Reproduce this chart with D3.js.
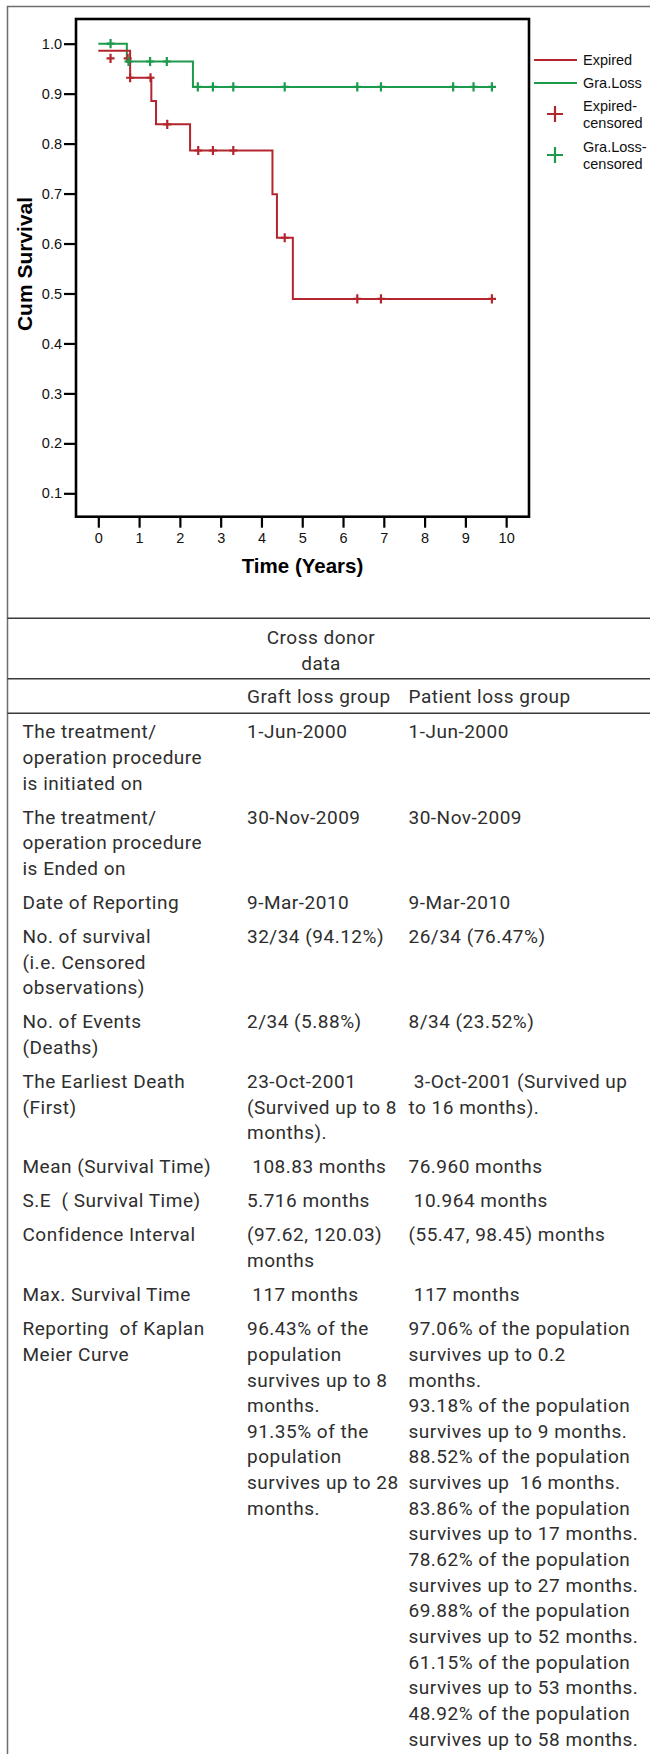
<!DOCTYPE html>
<html><head><meta charset="utf-8">
<script src="https://cdn.jsdelivr.net/npm/d3@7"></script>
<style>html,body{margin:0;padding:0;background:#fff;} svg{display:block;}</style>
</head><body>
<script>
// ---------- chart data ----------
const yearTicks = [0,1,2,3,4,5,6,7,8,9,10];
const survTicks = [0.1,0.2,0.3,0.4,0.5,0.6,0.7,0.8,0.9,1.0];

const graLossTimes = [0, 0.70, 2.32];
const graLossSurv  = [1.0, 0.9643, 0.9135];
const graLossEnd = 9.75;
const graLossCensorTimes = [0.30, 0.74, 1.27, 1.68, 2.44, 2.81, 3.31, 4.57, 6.35, 6.93, 8.70, 9.20, 9.65];
const graLossCensorSurv  = [1.0, 0.9643, 0.9643, 0.9643, 0.9135, 0.9135, 0.9135, 0.9135, 0.9135, 0.9135, 0.9135, 0.9135, 0.9135];

const expiredTimes = [0, 0.78, 1.30, 1.415, 2.25, 4.27, 4.38, 4.77];
const expiredSurv  = [0.986, 0.9318, 0.8852, 0.8386, 0.7862, 0.6988, 0.6115, 0.4892];
const expiredEnd = 9.75;
const expiredCensorTimes = [0.30, 0.72, 0.78, 1.28, 1.69, 2.45, 2.81, 3.31, 4.57, 6.35, 6.93, 9.65];
const expiredCensorSurv  = [0.9706, 0.9706, 0.9318, 0.9318, 0.8386, 0.7862, 0.7862, 0.7862, 0.6115, 0.4892, 0.4892, 0.4892];

const legendLabels = ["Expired", "Gra.Loss", "Expired-\ncensored", "Gra.Loss-\ncensored"];

// ---------- table data ----------
const headerGroup = "Cross donor\ndata";
const headerCols = ["Graft loss group", "Patient loss group"];
const rowLabels = [
  "The treatment/\noperation procedure\nis initiated on",
  "The treatment/\noperation procedure\nis Ended on",
  "Date of Reporting",
  "No. of survival\n(i.e. Censored\nobservations)",
  "No. of Events\n(Deaths)",
  "The Earliest Death\n(First)",
  "Mean (Survival Time)",
  "S.E  ( Survival Time)",
  "Confidence Interval",
  "Max. Survival Time",
  "Reporting  of Kaplan\nMeier Curve"
];
const graftValues = [
  "1-Jun-2000",
  "30-Nov-2009",
  "9-Mar-2010",
  "32/34 (94.12%)",
  "2/34 (5.88%)",
  "23-Oct-2001\n(Survived up to 8\nmonths).",
  " 108.83 months",
  "5.716 months",
  "(97.62, 120.03)\nmonths",
  " 117 months",
  "96.43% of the\npopulation\nsurvives up to 8\nmonths.\n91.35% of the\npopulation\nsurvives up to 28\nmonths."
];
const patientValues = [
  "1-Jun-2000",
  "30-Nov-2009",
  "9-Mar-2010",
  "26/34 (76.47%)",
  "8/34 (23.52%)",
  " 3-Oct-2001 (Survived up\nto 16 months).",
  "76.960 months",
  " 10.964 months",
  "(55.47, 98.45) months",
  " 117 months",
  "97.06% of the population\nsurvives up to 0.2\nmonths.\n93.18% of the population\nsurvives up to 9 months.\n88.52% of the population\nsurvives up  16 months.\n83.86% of the population\nsurvives up to 17 months.\n78.62% of the population\nsurvives up to 27 months.\n69.88% of the population\nsurvives up to 52 months.\n61.15% of the population\nsurvives up to 53 months.\n48.92% of the population\nsurvives up to 58 months."
];

// ---------- drawing ----------
const W = 650, H = 1754;
const RED = "#b3262e", GREEN = "#1e9a4c";
const svg = d3.select("body").append("svg").attr("width", W).attr("height", H);

// outer figure border (top + left)
svg.append("path").attr("d", `M7.5,1754 V6.5 H650`).attr("fill","none")
  .attr("stroke","#6d6d6d").attr("stroke-width",1.5);

const frame = {l:76, r:529, t:19, b:516.7};
const x = d3.scaleLinear().domain([-0.547, 10.56]).range([frame.l, frame.r]);
const y = d3.scaleLinear().domain([0.0532, 1.0494]).range([frame.b, frame.t]);

const chartFont = "'Liberation Sans', Arial, sans-serif";
const g = svg.append("g");

// axes
const yAxis = d3.axisLeft(y).tickValues(survTicks).tickFormat(d3.format(".1f")).tickSize(12).tickPadding(2);
const xAxis = d3.axisBottom(x).tickValues(yearTicks).tickFormat(d3.format("d")).tickSize(11).tickPadding(5);
const ya = g.append("g").attr("transform", `translate(${frame.l},0)`).call(yAxis);
const xa = g.append("g").attr("transform", `translate(0,${frame.b})`).call(xAxis);
[ya, xa].forEach(a => {
  a.select(".domain").remove();
  a.selectAll(".tick line").attr("stroke","#000").attr("stroke-width",2.2);
  a.selectAll(".tick text").attr("fill","#111").style("font-family",chartFont).style("font-size","14.5px");
});

// frame
g.append("rect").attr("x",frame.l).attr("y",frame.t).attr("width",frame.r-frame.l).attr("height",frame.b-frame.t)
  .attr("fill","none").attr("stroke","#000").attr("stroke-width",2.6);

// axis titles
g.append("text").attr("x",(frame.l+frame.r)/2).attr("y",572.5).attr("text-anchor","middle")
  .style("font-family",chartFont).style("font-weight","bold").style("font-size","20.5px").attr("fill","#000")
  .text("Time (Years)");
g.append("text").attr("transform",`translate(32,264) rotate(-90)`).attr("text-anchor","middle")
  .style("font-family",chartFont).style("font-weight","bold").style("font-size","21px").attr("fill","#000")
  .text("Cum Survival");

// curves
const line = d3.line().x(d=>x(d[0])).y(d=>y(d[1])).curve(d3.curveStepAfter);
function stepPts(times, surv, end){ const p = times.map((t,i)=>[t,surv[i]]); p.push([end, surv[surv.length-1]]); return p; }
function plusPath(t, s){ const cx=x(t), cy=y(s); return `M${cx-4},${cy}h8M${cx},${cy-4.6}v9.2`; }

g.append("path").attr("d", line(stepPts(graLossTimes, graLossSurv, graLossEnd))).attr("fill","none").attr("stroke",GREEN).attr("stroke-width",2);
g.append("path").attr("d", line(stepPts(expiredTimes, expiredSurv, expiredEnd))).attr("fill","none").attr("stroke",RED).attr("stroke-width",2);

g.append("g").selectAll("path").data(expiredCensorTimes).join("path")
  .attr("d",(t,i)=>plusPath(t, expiredCensorSurv[i])).attr("stroke",RED).attr("stroke-width",2.2).attr("fill","none");
g.append("g").selectAll("path").data(graLossCensorTimes).join("path")
  .attr("d",(t,i)=>plusPath(t, graLossCensorSurv[i])).attr("stroke",GREEN).attr("stroke-width",2.2).attr("fill","none");

// legend
const lg = svg.append("g");
const legY = [60, 83, 114, 155];
[RED, GREEN].forEach((c,i)=>{
  lg.append("line").attr("x1",534).attr("x2",577).attr("y1",legY[i]).attr("y2",legY[i]).attr("stroke",c).attr("stroke-width",2.2);
});
[RED, GREEN].forEach((c,i)=>{
  const cy = legY[i+2];
  lg.append("path").attr("d",`M547,${cy}h16M555,${cy-8}v16`).attr("stroke",c).attr("stroke-width",2.2).attr("fill","none");
});
legendLabels.forEach((lab,i)=>{
  const parts = lab.split("\n");
  const t = lg.append("text").style("font-family",chartFont).style("font-size","14.5px").attr("fill","#111");
  const c = legY[i];
  const start = c - (parts.length-1)*8.5;
  parts.forEach((p,j)=> t.append("tspan").attr("x",583).attr("y", start + j*17 + 5.2).text(p));
});

// ---------- table ----------
const tf = "Roboto, 'Open Sans', sans-serif";
const TXT = "#2e2e2e";
const FS = 19, LS = 0.5, LH = 25.65, PAD = 8.4;
const colX = [22.5, 247, 408.5];
const tg = svg.append("g");
[618.3, 678.7, 713.3].forEach(ly => tg.append("line").attr("x1",7.5).attr("x2",650).attr("y1",ly).attr("y2",ly)
  .attr("stroke","#3a3a3a").attr("stroke-width",1.4));

function block(xpos, yCenter, str, anchor){
  const parts = str.split("\n");
  const t = tg.append("text").style("font-family",tf).style("font-size",FS+"px").style("letter-spacing",LS+"px")
    .style("white-space","pre").attr("fill",TXT).attr("text-anchor",anchor||"start");
  parts.forEach((p,j)=> t.append("tspan").attr("x",xpos).attr("y",yCenter + j*LH + 6.7).text(p));
  return parts.length;
}
// header
const hg = headerGroup.split("\n");
hg.forEach((p,j)=> tg.append("text").style("font-family",tf).style("font-size",FS+"px").style("letter-spacing",LS+"px")
  .attr("fill",TXT).attr("text-anchor","middle").attr("x",321).attr("y",637.3 + j*26 + 6.7).text(p));
block(colX[1], 696.7, headerCols[0]);
block(colX[2], 696.7, headerCols[1]);

let yc = 731.5;
rowLabels.forEach((lab,i)=>{
  const n = Math.max(block(colX[0], yc, lab), block(colX[1], yc, graftValues[i]), block(colX[2], yc, patientValues[i]));
  yc += n*LH + PAD;
});
</script>
</body></html>
